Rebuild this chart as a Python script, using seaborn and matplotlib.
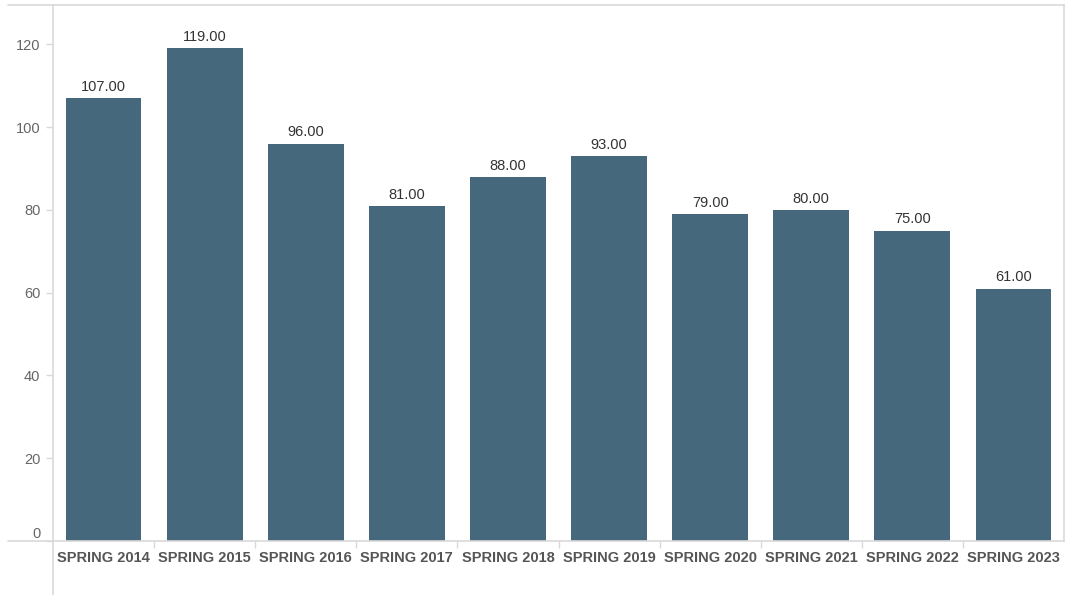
import matplotlib
matplotlib.use("Agg")
import matplotlib.pyplot as plt
import seaborn as sns
import pandas as pd
from matplotlib.lines import Line2D

categories = ["SPRING 2014", "SPRING 2015", "SPRING 2016", "SPRING 2017", "SPRING 2018",
              "SPRING 2019", "SPRING 2020", "SPRING 2021", "SPRING 2022", "SPRING 2023"]
values = [107, 119, 96, 81, 88, 93, 79, 80, 75, 61]
yticks = [0, 20, 40, 60, 80, 100, 120]

sns.set_theme(style="white")
plt.rcParams['font.family'] = ['Liberation Sans', 'DejaVu Sans']

W, H = 1067, 595
fig = plt.figure(figsize=(W / 100, H / 100), dpi=100)
ax = fig.add_axes([53 / W, (H - 541) / H, (1064 - 53) / W, (541 - 5) / H])

df = pd.DataFrame({"cat": categories, "val": values})
sns.barplot(data=df, x="cat", y="val", color="#45687C", saturation=1, width=0.75,
            linewidth=0, ax=ax)

for i, v in enumerate(values):
    ax.annotate(f"{v:.2f}", (i, v), xytext=(0, 3), textcoords="offset points",
                ha="center", va="bottom", fontsize=10.5, color="#333333")

ax.set_ylim(0, 129.5)
ax.set_xlim(-0.5, len(categories) - 0.5)
ax.set_yticks(yticks)
ax.set_yticklabels([str(t) for t in yticks])
ax.set_xlabel("")
ax.set_ylabel("")

grey = "#d9d9d9"
for s in ax.spines.values():
    s.set_visible(True)
    s.set_color(grey)
    s.set_linewidth(1.2)

ax.tick_params(axis="y", which="major", left=True, length=5, color=grey, width=1,
               labelsize=10.5, labelcolor="#666666", pad=4)
ax.tick_params(axis="x", which="major", bottom=False, labelsize=10.5, labelcolor="#555555", pad=1)
for lab in ax.get_xticklabels():
    lab.set_fontweight("bold")
ax.set_xticks([i + 0.5 for i in range(len(categories) - 1)], minor=True)
ax.tick_params(axis="x", which="minor", bottom=True, length=5, color=grey, width=1)
ylabs = ax.get_yticklabels()
ylabs[0].set_va("bottom")

# frame extensions beyond the plot area
fig.add_artist(Line2D([8 / W, 53 / W], [(H - 5) / H, (H - 5) / H], color=grey, lw=1.2))
fig.add_artist(Line2D([8 / W, 53 / W], [(H - 541) / H, (H - 541) / H], color=grey, lw=1.2))
fig.add_artist(Line2D([53 / W, 53 / W], [0, (H - 541) / H], color=grey, lw=1.2))

fig.savefig("out.png", dpi=100)
